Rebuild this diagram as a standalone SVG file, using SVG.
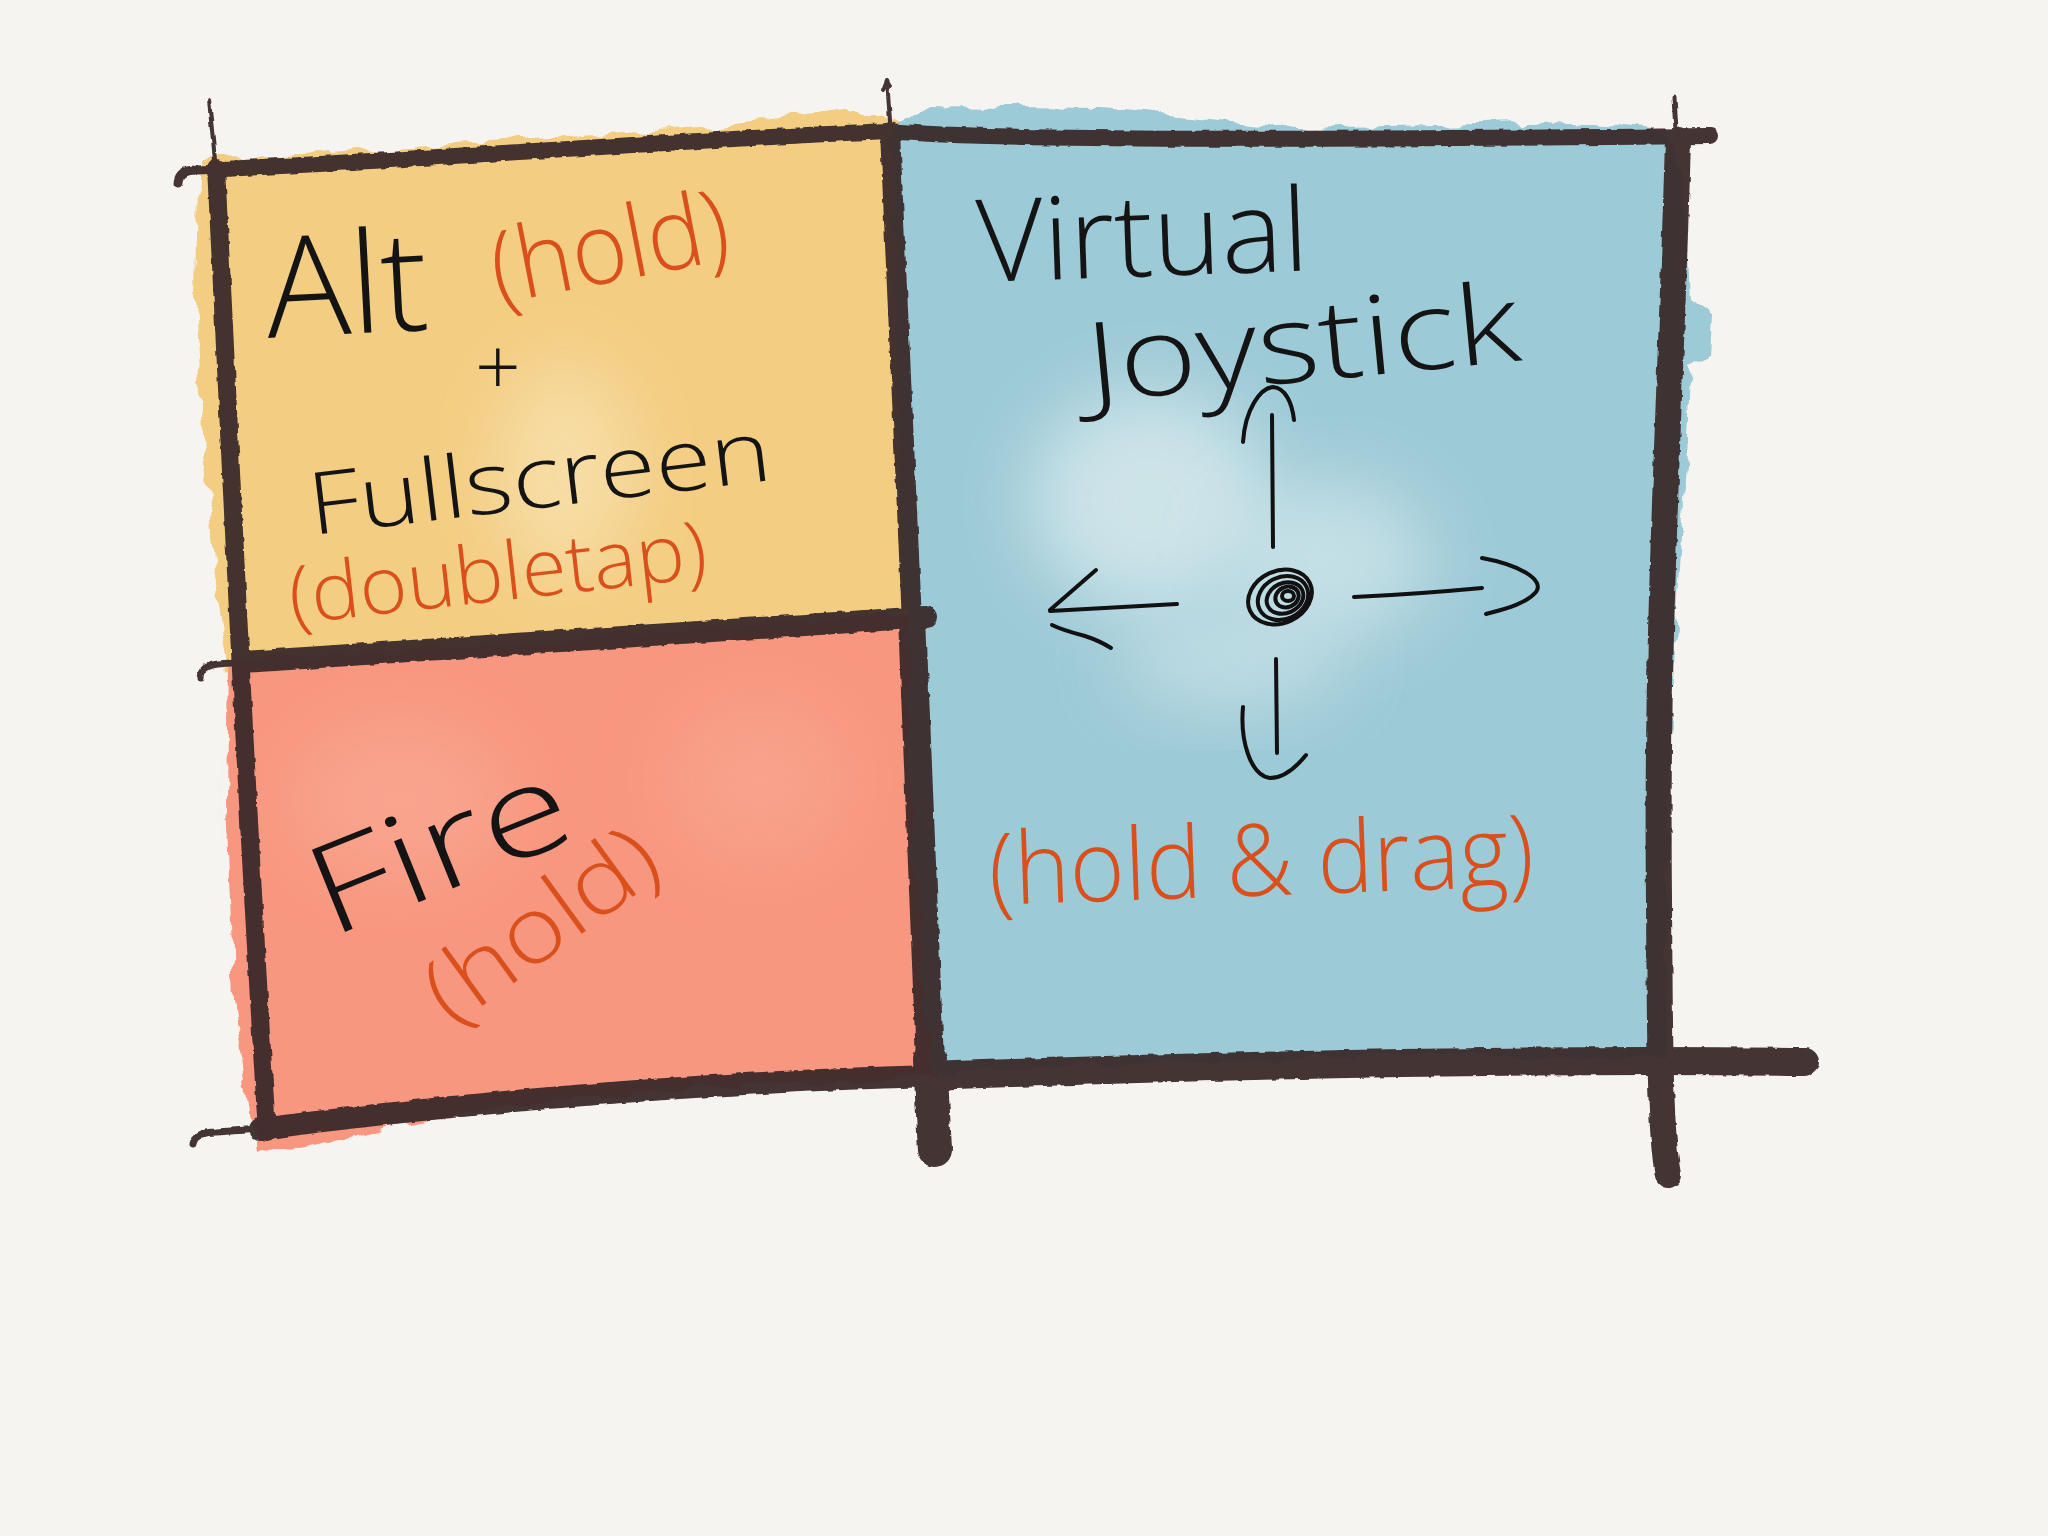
<svg xmlns="http://www.w3.org/2000/svg" width="2048" height="1536" viewBox="0 0 2048 1536">
  <style>
    .ink { font-family: "Open Sans", "Lato", "Liberation Sans", sans-serif; font-weight: 300; fill: #141414; }
    .org { font-family: "Open Sans", "Lato", "Liberation Sans", sans-serif; font-weight: 300; fill: #D9501C; }
    .line { fill: none; stroke: #3B2A2A; stroke-linecap: round; stroke-linejoin: round; }
    .pen { fill: none; stroke: #111; stroke-width: 4; stroke-linecap: round; stroke-linejoin: round; }
  </style>
  <defs>
    <filter id="wc" x="-5%" y="-5%" width="110%" height="110%">
      <feTurbulence type="fractalNoise" baseFrequency="0.03" numOctaves="3" seed="4" result="n"/>
      <feDisplacementMap in="SourceGraphic" in2="n" scale="18" xChannelSelector="R" yChannelSelector="G"/>
    </filter>
    <filter id="soft" x="-40%" y="-40%" width="180%" height="180%">
      <feGaussianBlur stdDeviation="35"/>
    </filter>
    <filter id="rough" x="-2%" y="-5%" width="104%" height="110%">
      <feTurbulence type="fractalNoise" baseFrequency="0.09" numOctaves="2" seed="7" result="n"/>
      <feDisplacementMap in="SourceGraphic" in2="n" scale="4" xChannelSelector="R" yChannelSelector="G"/>
    </filter>
  </defs>

  <rect width="2048" height="1536" fill="#F5F4F0"/>

  <!-- Alt / Fullscreen cell -->
  <g id="cell-alt">
    <path filter="url(#wc)" fill="#F3CD82" d="M198,178 L206,160 L330,152 L520,140 L700,128 L848,112 L880,112 L905,126 L912,400 L918,612 L640,640 L400,660 L226,672 L215,600 L204,450 L196,300 Z"/>
    <ellipse cx="565" cy="470" rx="70" ry="110" fill="#F8E0AC" filter="url(#soft)" opacity="0.85"/>
    <text class="ink" x="268" y="338" font-size="140" transform="rotate(-3 268 338)">Alt</text>
    <text class="org" x="498" y="304" font-size="100" textLength="240" lengthAdjust="spacingAndGlyphs" transform="rotate(-11 498 304)">(hold)</text>
    <text class="ink" x="475" y="395" font-size="80">+</text>
    <text class="ink" x="312" y="535" font-size="86" textLength="465" lengthAdjust="spacingAndGlyphs" transform="rotate(-6.8 312 535)">Fullscreen</text>
    <text class="org" x="292" y="624" font-size="80" textLength="420" lengthAdjust="spacingAndGlyphs" transform="rotate(-6.4 292 624)">(doubletap)</text>
  </g>

  <!-- Fire cell -->
  <g id="cell-fire">
    <path filter="url(#wc)" fill="#F8977F" d="M228,662 L470,646 L700,628 L930,615 L936,900 L940,1076 L700,1086 L470,1110 L360,1136 L300,1150 L256,1148 L234,1000 L226,800 Z"/>
    <ellipse cx="400" cy="800" rx="110" ry="80" fill="#FAAC98" filter="url(#soft)" opacity="0.6"/>
    <ellipse cx="760" cy="780" rx="90" ry="80" fill="#FAAC98" filter="url(#soft)" opacity="0.5"/>
    <text class="ink" x="330" y="938" font-size="124" textLength="270" lengthAdjust="spacingAndGlyphs" transform="rotate(-22 330 938)">Fire</text>
    <text class="org" x="452" y="1028" font-size="92" textLength="265" lengthAdjust="spacingAndGlyphs" transform="rotate(-36 452 1028)">(hold)</text>
  </g>

  <!-- Virtual Joystick cell -->
  <g id="cell-joystick">
    <path filter="url(#wc)" fill="#9DCAD7" d="M893,122 L930,106 L1100,108 L1300,128 L1570,122 L1665,130 L1685,180 L1690,300 L1714,318 L1712,356 L1690,366 L1676,600 L1668,800 L1665,1058 L1400,1054 L1100,1064 L932,1074 L912,800 L900,500 Z"/>
    <ellipse cx="1150" cy="500" rx="120" ry="110" fill="#D5E8EC" filter="url(#soft)" opacity="0.85"/>
    <ellipse cx="1330" cy="560" rx="100" ry="80" fill="#D5E8EC" filter="url(#soft)" opacity="0.7"/>
    <ellipse cx="1230" cy="660" rx="110" ry="50" fill="#D5E8EC" filter="url(#soft)" opacity="0.6"/>
    <text class="ink" x="978" y="282" font-size="115" textLength="332" lengthAdjust="spacingAndGlyphs" transform="rotate(-2 978 282)">Virtual</text>
    <text class="ink" x="1090" y="402" font-size="110" textLength="435" lengthAdjust="spacingAndGlyphs" transform="rotate(-5.5 1090 402)">Joystick</text>
    <!-- joystick knob -->
    <g class="pen" stroke-width="3.5">
      <ellipse cx="1280" cy="597" rx="33" ry="26" transform="rotate(-25 1280 597)"/>
      <ellipse cx="1283" cy="598" rx="26" ry="21" transform="rotate(-25 1283 598)"/>
      <ellipse cx="1285" cy="598" rx="19" ry="15" transform="rotate(-25 1285 598)"/>
      <ellipse cx="1287" cy="597" rx="12" ry="10" transform="rotate(-25 1287 597)"/>
      <ellipse cx="1288" cy="596" rx="6" ry="5"/>
    </g>
    <!-- arrows -->
    <path class="pen" d="M1273,547 L1272,415"/>
    <path class="pen" d="M1243,442 C1245,410 1260,388 1273,387 C1285,388 1292,402 1294,420"/>
    <path class="pen" d="M1177,604 L1050,611"/>
    <path class="pen" d="M1096,570 L1050,610"/>
    <path class="pen" d="M1052,625 Q1062,630 1085,636 Q1100,641 1111,648"/>
    <path class="pen" d="M1354,597 C1400,595 1450,591 1482,588"/>
    <path class="pen" d="M1482,558 C1520,565 1545,580 1536,592 C1525,605 1500,610 1486,614"/>
    <path class="pen" d="M1276,659 L1277,753"/>
    <path class="pen" d="M1243,707 C1240,740 1250,775 1270,778 C1285,778 1298,765 1306,755"/>
    <text class="org" x="990" y="905" font-size="100" textLength="545" lengthAdjust="spacingAndGlyphs" transform="rotate(-2 990 905)">(hold &amp; drag)</text>
  </g>

  <!-- grid lines -->
  <g id="connectors" opacity="0.95" filter="url(#rough)">
    <!-- top line -->
    <path class="line" stroke-width="9" d="M178,183 Q179,170 196,170 L222,169"/>
    <path class="line" stroke-width="16" d="M220,169 C400,161 700,139 890,131"/>
    <path class="line" stroke-width="16" d="M888,131 C1000,141 1300,140 1710,136"/>
    <!-- left vertical -->
    <path class="line" stroke-width="4" d="M209,100 L216,170"/>
    <path class="line" stroke-width="18" d="M216,168 C226,350 240,700 267,1132"/>
    <!-- middle vertical -->
    <path class="line" stroke-width="4" d="M883,90 L887,80 L890,86 M887,80 L891,135"/>
    <path class="line" stroke-width="20" d="M890,132 L912,622"/>
    <path class="line" stroke-width="28" d="M912,618 L930,1062"/>
    <path class="line" stroke-width="34" d="M930,1060 L935,1150"/>
    <!-- right vertical -->
    <path class="line" stroke-width="5" d="M1674,98 L1677,145"/>
    <path class="line" stroke-width="26" d="M1678,140 C1670,420 1656,620 1659,900 C1660,1050 1660,1130 1668,1175"/>
    <!-- divider between Alt and Fire -->
    <path class="line" stroke-width="7" d="M200,678 Q201,666 218,664 L245,662"/>
    <path class="line" stroke-width="22" d="M243,662 C450,648 700,632 926,617"/>
    <!-- bottom line -->
    <path class="line" stroke-width="7" d="M193,1144 Q195,1132 216,1132 L262,1129"/>
    <path class="line" stroke-width="22" d="M260,1129 C450,1104 700,1082 935,1076"/>
    <path class="line" stroke-width="28" d="M930,1076 C1200,1066 1500,1058 1805,1062"/>
  </g>
</svg>
